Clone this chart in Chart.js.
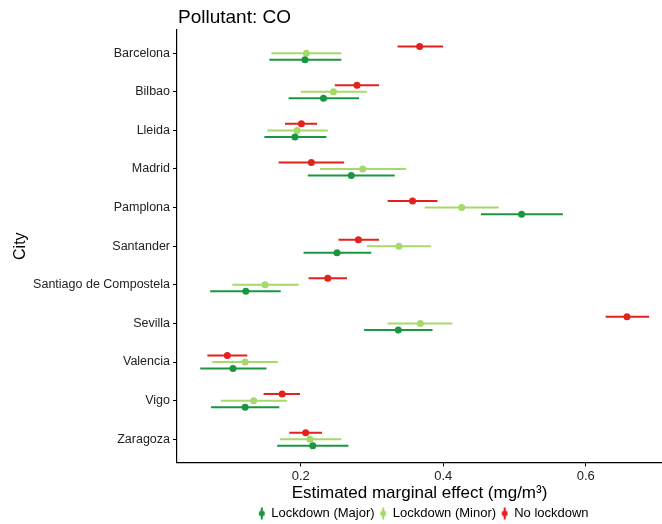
<!DOCTYPE html>
<html>
<head>
<meta charset="utf-8">
<script src="https://cdn.jsdelivr.net/npm/chart.js@4.4.1/dist/chart.umd.min.js"></script>
<style>
  html, body { margin: 0; padding: 0; background: #fff; }
  #wrap { width: 662px; height: 524px; }
</style>
</head>
<body>
<div id="wrap"><canvas id="forest" width="662" height="524"></canvas></div>
<script>
// values (mg/m3)
const cities = ['Barcelona', 'Bilbao', 'Lleida', 'Madrid', 'Pamplona', 'Santander',
  'Santiago de Compostela', 'Sevilla', 'Valencia', 'Vigo', 'Zaragoza'];

const majorEst = [0.206, 0.232, 0.192, 0.271, 0.510, 0.251, 0.123, 0.337, 0.105, 0.122, 0.217];
const majorLo  = [0.156, 0.183, 0.149, 0.210, 0.453, 0.204, 0.073, 0.289, 0.059, 0.074, 0.167];
const majorHi  = [0.257, 0.282, 0.236, 0.332, 0.568, 0.299, 0.172, 0.385, 0.152, 0.170, 0.267];

const minorEst = [0.208, 0.246, 0.195, 0.287, 0.426, 0.338, 0.150, 0.368, 0.122, 0.134, 0.213];
const minorLo  = [0.159, 0.200, 0.153, 0.227, 0.374, 0.293, 0.104, 0.322, 0.076, 0.088, 0.171];
const minorHi  = [0.257, 0.293, 0.238, 0.348, 0.478, 0.383, 0.197, 0.413, 0.168, 0.181, 0.257];

const noneEst = [0.367, 0.279, 0.201, 0.215, 0.357, 0.281, 0.238, 0.658, 0.097, 0.174, 0.207];
const noneLo  = [0.336, 0.248, 0.178, 0.169, 0.322, 0.253, 0.211, 0.628, 0.069, 0.148, 0.184];
const noneHi  = [0.400, 0.310, 0.223, 0.261, 0.392, 0.310, 0.265, 0.689, 0.125, 0.199, 0.230];

const xTicks = [0.2, 0.4, 0.6];

const RED = '#e3221c';
const LIGHT = '#a6d96a';
const DARK = '#1a9641';
const FONT = "'Liberation Sans', Arial, sans-serif";

// dodge: No lockdown on top, Minor in the middle, Major at the bottom
function rows(est, lo, hi, shift) {
  return est.map((v, i) => ({ x: v, y: i + 1 + shift, lo: lo[i], hi: hi[i] }));
}

// little "point range" key for the legend
function keyIcon(color) {
  const c = document.createElement('canvas');
  c.width = 8; c.height = 14;
  const g = c.getContext('2d');
  g.strokeStyle = color;
  g.lineWidth = 2;
  g.beginPath(); g.moveTo(4, 1); g.lineTo(4, 13); g.stroke();
  g.fillStyle = color;
  g.beginPath(); g.arc(4, 7, 3, 0, Math.PI * 2); g.fill();
  return c;
}

const errorBars = {
  id: 'errorBars',
  beforeDatasetsDraw(chart) {
    const { ctx, scales: { x, y } } = chart;
    ctx.save();
    ctx.lineWidth = 2;
    chart.data.datasets.forEach(ds => {
      ctx.strokeStyle = ds.backgroundColor;
      ds.data.forEach(d => {
        const py = y.getPixelForValue(d.y);
        ctx.beginPath();
        ctx.moveTo(x.getPixelForValue(d.lo), py);
        ctx.lineTo(x.getPixelForValue(d.hi), py);
        ctx.stroke();
      });
    });
    ctx.restore();
  }
};

const plotTitle = {
  id: 'plotTitle',
  afterLayout(chart) {
    // ggplot puts the legend a bit right of the panel centre and lower
    const lg = chart.legend;
    lg.left += 6; lg.right += 6;
    lg.top += 6; lg.bottom += 6;
  },
  afterDraw(chart) {
    const ctx = chart.ctx;
    ctx.save();
    ctx.fillStyle = '#000';
    ctx.font = '19px ' + FONT;
    ctx.textBaseline = 'middle';
    ctx.fillText('Pollutant: CO', chart.chartArea.left + 1, 18);
    ctx.restore();
  }
};

const icons = [keyIcon(DARK), keyIcon(LIGHT), keyIcon(RED)];

new Chart(document.getElementById('forest'), {
  type: 'scatter',
  data: {
    datasets: [
      { label: 'Lockdown (Major)', data: rows(majorEst, majorLo, majorHi, 0.17), backgroundColor: DARK },
      { label: 'Lockdown (Minor)', data: rows(minorEst, minorLo, minorHi, 0), backgroundColor: LIGHT },
      { label: 'No lockdown', data: rows(noneEst, noneLo, noneHi, -0.17), backgroundColor: RED }
    ]
  },
  options: {
    responsive: false,
    animation: false,
    layout: { autoPadding: false, padding: { top: 30, left: 0, right: 0, bottom: 0 } },
    elements: { point: { radius: 3.5, borderWidth: 0, hoverRadius: 3.5 } },
    scales: {
      x: {
        type: 'linear',
        min: 0.0264,
        max: 0.7071,
        afterBuildTicks: s => { s.ticks = xTicks.map(v => ({ value: v })); },
        afterFit: s => { s.height = 36.6; s.paddingLeft = 0; s.paddingRight = 0; },
        ticks: { color: '#222', font: { family: FONT, size: 13 }, padding: 2, callback: v => v.toString() },
        grid: { drawOnChartArea: false, color: '#000', tickLength: 4 },
        border: { display: true, color: '#000', width: 1.2 },
        title: {
          display: true,
          text: 'Estimated marginal effect (mg/m\u00b3)',
          color: '#000',
          font: { family: FONT, size: 17 },
          padding: { top: 0, bottom: -4.6 }
        }
      },
      y: {
        type: 'linear',
        reverse: true,
        min: 0.4,
        max: 11.6,
        afterBuildTicks: s => { s.ticks = cities.map((c, i) => ({ value: i + 1 })); },
        afterFit: s => { s.width = 177; },
        ticks: { color: '#222', font: { family: FONT, size: 12.5 }, padding: 3,
          callback: v => cities[Math.round(v) - 1] },
        grid: { drawOnChartArea: false, color: '#000', tickLength: 4 },
        border: { display: true, color: '#000', width: 1.2 },
        title: {
          display: true,
          text: 'City',
          color: '#000',
          font: { family: FONT, size: 16 },
          padding: { top: 11, bottom: 0 }
        }
      }
    },
    plugins: {
      title: { display: false },
      tooltip: { enabled: false },
      legend: {
        position: 'bottom',
        fullSize: false,
        labels: {
          usePointStyle: true,
          pointStyleWidth: 6,
          padding: 2,
          color: '#000',
          font: { family: FONT, size: 13 },
          generateLabels: chart => Chart.defaults.plugins.legend.labels.generateLabels(chart)
            .map((l, i) => Object.assign(l, { pointStyle: icons[i], text: l.text + ' ' }))
        }
      }
    }
  },
  plugins: [errorBars, plotTitle]
});
</script>
</body>
</html>
